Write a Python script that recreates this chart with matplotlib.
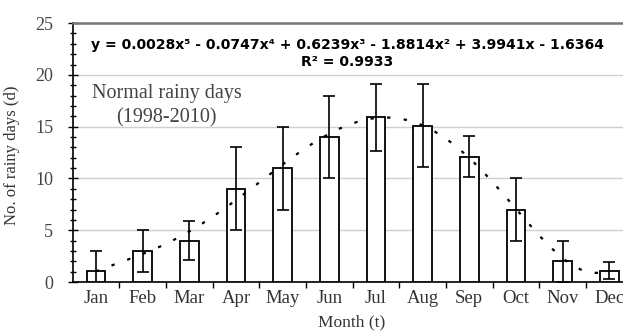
import numpy as np
import matplotlib
matplotlib.use("Agg")
import matplotlib.pyplot as plt
from matplotlib.ticker import MultipleLocator

months = ["Jan", "Feb", "Mar", "Apr", "May", "Jun",
          "Jul", "Aug", "Sep", "Oct", "Nov", "Dec"]
rainy_days = [1.1, 3.0, 4.0, 9.0, 11.0, 14.0, 15.9, 15.1, 12.1, 7.0, 2.0, 1.1]
rainy_sd = [1.9, 2.0, 1.9, 4.0, 4.0, 4.0, 3.2, 4.0, 2.0, 3.0, 2.0, 0.8]
# 5th-order polynomial trend, highest power first
trend_coef = [0.0028, -0.0747, 0.6239, -1.8814, 3.9941, -1.6364]
r_squared = 0.9933

serif = "Liberation Serif"
eqfont = "DejaVu Sans"

fig = plt.figure(figsize=(6.23, 3.35), dpi=100)
ax = fig.add_axes([0.1165, 0.158, 0.899, 0.773])

pos = np.arange(len(months))
ax.bar(pos, rainy_days, width=0.4, color="white", edgecolor="black",
       linewidth=1.3, zorder=3)
ax.errorbar(pos, rainy_days, yerr=rainy_sd, fmt="none", ecolor="black",
            elinewidth=1.2, capsize=4, capthick=1.2, zorder=4)

# trend curve evaluated at month numbers 1..12
mx = np.linspace(1, 12, 200)
ax.plot(mx - 1, np.polyval(trend_coef, mx), color="black", lw=1.6,
        linestyle=(0, (1.5, 6)), zorder=5)

ax.set_xlim(-0.5, 11.5)
ax.set_ylim(0, 25)
ax.set_xticks(pos)
ax.set_xticklabels(months, family=serif, fontsize=13.5, color="#333333")
ax.set_xticks(np.arange(0.5, 11.5, 1), minor=True)
ax.tick_params(axis="x", which="major", length=0, pad=6)
ax.tick_params(axis="x", which="minor", length=4, width=1, direction="out")

ax.yaxis.set_major_locator(MultipleLocator(5))
ax.yaxis.set_minor_locator(MultipleLocator(1))
ax.tick_params(axis="y", which="major", length=7, width=1, direction="inout",
               labelsize=13, pad=10.5)
ax.tick_params(axis="y", which="minor", length=5, width=1, direction="inout")
for t in ax.get_yticklabels():
    t.set_family(serif)
    t.set_color("#444444")

ax.grid(axis="y", color="#cfcfcf", lw=1.0, zorder=0)
ax.spines["right"].set_visible(False)
ax.spines["top"].set_color("#777777")
ax.spines["top"].set_linewidth(1.8)
ax.spines["left"].set_linewidth(1.2)
ax.spines["bottom"].set_linewidth(1.2)

ax.set_ylabel("No. of rainy days (d)", family=serif, fontsize=12,
              color="#333333")
ax.yaxis.set_label_coords(-0.094, 0.49)
ax.set_xlabel("Month (t)", family=serif, fontsize=12.5, color="#333333")
ax.xaxis.set_label_coords(0.499, -0.125)

eq = "y = 0.0028x⁵ - 0.0747x⁴ + 0.6239x³ - 1.8814x² + 3.9941x - 1.6364"
ax.text(5.38, 22.9, eq, family=eqfont, fontweight="bold", fontsize=10.1,
        ha="center", va="center", zorder=6)
ax.text(5.38, 21.2, "R² = %.4f" % r_squared, family=eqfont,
        fontweight="bold", fontsize=10.1, ha="center", va="center", zorder=6)

ax.text(1.52, 18.2, "Normal rainy days", family=serif, fontsize=14.5,
        ha="center", va="center", color="#444444")
ax.text(1.52, 15.9, "(1998-2010)", family=serif, fontsize=14.5,
        ha="center", va="center", color="#444444")

fig.savefig("out.png", dpi=100)
